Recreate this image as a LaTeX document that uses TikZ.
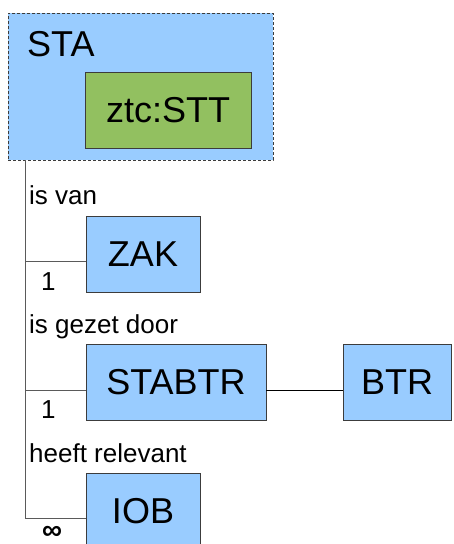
\documentclass[tikz,border=0pt]{standalone}
\usepackage{fontspec}
\setmainfont{Liberation Sans}
\definecolor{boxblue}{RGB}{153,204,255}
\definecolor{boxgreen}{RGB}{146,192,96}
\definecolor{edgegray}{RGB}{60,60,60}
\definecolor{linegray}{RGB}{90,90,90}
\begin{document}
\begin{tikzpicture}[x=1pt,y=-1pt,
  ent/.style={draw=edgegray,line width=0.9pt,fill=boxblue,inner sep=0pt,
    font=\fontsize{36}{40}\selectfont},
  lbl/.style={inner sep=0pt,anchor=base west,font=\fontsize{26}{30}\selectfont},
  conn/.style={draw=linegray,line width=0.9pt}]
\useasboundingbox (0,0) rectangle (453,544);
\begin{scope}
\clip (0,0) rectangle (453,544);
% STA container
\node[draw=edgegray,line width=0.8pt,dash pattern=on 3pt off 2pt,fill=boxblue,
  minimum width=265pt,minimum height=147pt,inner sep=0pt] (sta) at (140.5,86.5) {};
\node[inner sep=0pt,anchor=base west,font=\fontsize{36}{40}\selectfont] (statxt) at (27,56) {STA};
\node[ent,fill=boxgreen,minimum width=166pt,minimum height=76pt] (stt) at (168,110) {ztc:STT};
% entities
\node[ent,minimum width=114pt,minimum height=76pt] (zak) at (143,254) {ZAK};
\node[ent,minimum width=180pt,minimum height=76pt] (stabtr) at (176,382) {STABTR};
\node[ent,minimum width=108pt,minimum height=76pt] (btr) at (397,382) {BTR};
\node[ent,minimum width=114pt,minimum height=76pt] (iob) at (143,511) {IOB};
% connectors
\coordinate (top) at (25,160);
\coordinate (jz) at (25,261);
\coordinate (js) at (25,390);
\coordinate (ji) at (25,518);
\draw[conn] (top) -- (ji);
\draw[conn] (jz) -- (zak.west |- jz);
\draw[conn] (js) -- (stabtr.west |- js);
\draw[conn] (ji) -- (iob.west |- ji);
\draw[line width=0.9pt,draw=black] (stabtr.east |- js) -- (btr.west |- js);
% labels
\node[lbl] (l1) at (29,204) {is van};
\node[lbl] (c1) at (41,290) {1};
\node[lbl] (l2) at (29,333) {is gezet door};
\node[lbl] (c2) at (41,418) {1};
\node[lbl] (l3) at (29,462) {heeft relevant};
\node[lbl,font=\fontsize{28}{30}\selectfont\bfseries] (c3) at (42,539.5) {∞};
\end{scope}
\end{tikzpicture}
\end{document}
